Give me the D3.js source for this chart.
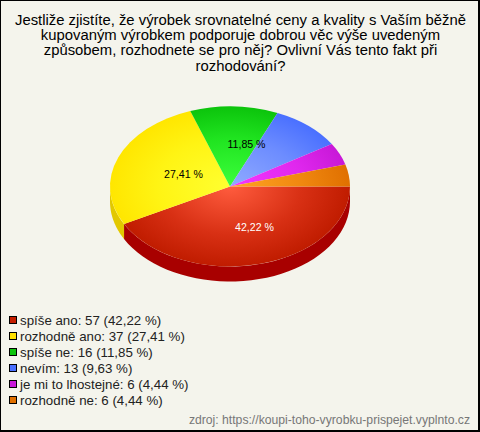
<!DOCTYPE html>
<html><head><meta charset="utf-8">
<script src="https://cdn.jsdelivr.net/npm/d3@7"></script>
<style>html,body{margin:0;padding:0;background:#f4f4ec}svg{display:block}text{font-family:"Liberation Sans",Arial,sans-serif}</style>
</head><body><svg id="c" width="480" height="432"></svg>
<script>
const titleLines=["Jestliže zjistíte, že výrobek srovnatelné ceny a kvality s Vaším běžně","kupovaným výrobkem podporuje dobrou věc výše uvedeným","způsobem, rozhodnete se pro něj? Ovlivní Vás tento fakt při","rozhodování?"];
const categories=["spíše ano","rozhodně ano","spíše ne","nevím","je mi to lhostejné","rozhodně ne"];
const counts=[57,37,16,13,6,6];
const percents=["42,22","27,41","11,85","9,63","4,44","4,44"];
const edgeColors=["#c01c00","#ffe600","#0cc40c","#4a70ff","#c818d8","#e07000"];
const midColors=["#d83014","#fff414","#20e420","#6c8cff","#e028ee","#f08810"];
const centerColors=["#ff5c3e","#ffff30","#3cff3c","#90aaff","#f436ff","#ffa424"];
const sideColors=["#a80000","#e2c800","#0a9a0a","#3a58c8","#a010b0","#b05800"];
const legendColors=["#c41e00","#ffe000","#0cc40c","#4a70ff","#c818d8","#e07000"];
const labelColors=["#fff","#000","#000"];
const source="zdroj: https://koupi-toho-vyrobku-prispejet.vyplnto.cz";
{
const W=480,H=432,cx=230,cy=186.5,rx=120,ry=80,depth=15;
const svg=d3.select("#c");
svg.append("rect").attr("x",.5).attr("y",.5).attr("width",W-1).attr("height",H-1).attr("fill","#f4f4ec").attr("stroke","#000");
svg.append("rect").attr("x",0).attr("y",H-2).attr("width",W).attr("height",2).attr("fill","#000");
svg.append("rect").attr("x",W-2).attr("y",0).attr("width",2).attr("height",H).attr("fill","#000");

const title=svg.append("text").attr("text-anchor","middle").attr("font-size",14.85).attr("fill","#000");
titleLines.forEach((t,i)=>title.append("tspan").attr("x",240.5).attr("y",24.5+i*15.4).text(t));

const defs=svg.append("defs");
edgeColors.forEach((c,i)=>{
  const g=defs.append("radialGradient").attr("id","g"+i).attr("gradientUnits","userSpaceOnUse").attr("cx",0).attr("cy",0).attr("r",rx);
  g.append("stop").attr("offset",0).attr("stop-color",centerColors[i]);
  g.append("stop").attr("offset",0.6).attr("stop-color",midColors[i]);
  g.append("stop").attr("offset",1).attr("stop-color",c);
});

const pie=d3.pie().sort(null).startAngle(Math.PI/2).endAngle(Math.PI/2+2*Math.PI);
const arcs=pie(counts);
const arc=d3.arc().innerRadius(0).outerRadius(rx);
const px=a=>cx+rx*Math.sin(a), py=a=>cy-ry*Math.cos(a);

const side=svg.append("g");
arcs.forEach((d,i)=>{
  const a0=Math.max(d.startAngle,Math.PI/2),a1=Math.min(d.endAngle,3*Math.PI/2);
  if(a1<=a0)return;
  const ang=d3.range(0,41).map(k=>a0+(a1-a0)*k/40);
  const pts=ang.map(a=>[px(a),py(a)]).concat(ang.slice().reverse().map(a=>[px(a),py(a)+depth]));
  side.append("path").attr("d",d3.line()(pts)+"Z").attr("fill",sideColors[i]);
});

const face=svg.append("g").attr("transform",`translate(${cx},${cy}) scale(1,${ry/rx})`);
face.selectAll("path").data(arcs).join("path").attr("d",arc).attr("fill",(d,i)=>`url(#g${i})`);

arcs.slice(0,3).forEach((d,i)=>{
  const lx=i==0?254.5:i==1?183.5:246.5, ly=i==0?227:i==1?174:144;
  svg.append("text").attr("x",lx).attr("y",ly+4).attr("text-anchor","middle").attr("font-size",10.6).attr("fill",labelColors[i]).text(percents[i]+" %");
});

const lg=svg.append("g");
categories.forEach((c,i)=>{
  const y=320+i*16;
  lg.append("rect").attr("x",9.5).attr("y",y-3.5).attr("width",7).attr("height",7).attr("fill",legendColors[i]).attr("stroke","#000");
  lg.append("text").attr("x",20).attr("y",y+4.5).attr("font-size",13.3).attr("fill","#222").text(`${c}: ${counts[i]} (${percents[i]} %)`);
});
svg.append("text").attr("x",470).attr("y",423.5).attr("text-anchor","end").attr("font-size",12.2).attr("fill","#777").text(source);
}
</script></body></html>
